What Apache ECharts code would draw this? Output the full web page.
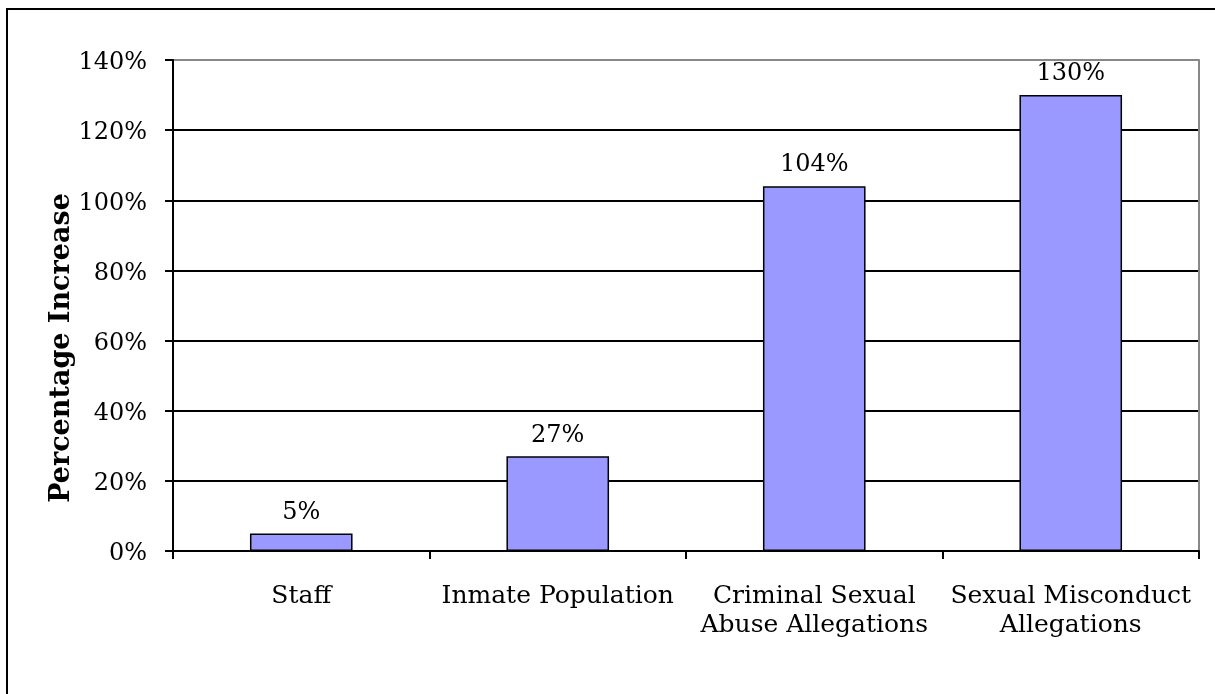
<!DOCTYPE html>
<html>
<head>
<meta charset="utf-8">
<script src="https://cdn.jsdelivr.net/npm/echarts@6/dist/echarts.min.js"></script>
<style>
html,body{margin:0;padding:0;background:#fff;}
#chart{width:1215px;height:694px;}
</style>
</head>
<body>
<div id="chart"></div>
<script>
const categories = ['Staff', 'Inmate Population', 'Criminal Sexual\nAbuse Allegations', 'Sexual Misconduct\nAllegations'];
const values = [5, 27, 104, 130];
const yTicks = [0, 20, 40, 60, 80, 100, 120, 140];
const yTitle = 'Percentage Increase';

const FONT = 'DejaVu Serif';
const chart = echarts.init(document.getElementById('chart'));
chart.setOption({
  animation: false,
  backgroundColor: '#fff',
  grid: { left: 173, top: 60, right: 16, bottom: 143 },
  graphic: [{
    type: 'rect', z: 100,
    shape: { x: 7, y: 9, width: 1400, height: 900 },
    style: { fill: 'none', stroke: '#000', lineWidth: 2 }
  }, {
    type: 'text', x: 62, y: 348, rotation: Math.PI / 2,
    style: { text: yTitle, fontFamily: FONT, fontSize: 27, fontWeight: 'bold', fill: '#000', align: 'center', verticalAlign: 'middle' }
  }],
  xAxis: {
    type: 'category',
    data: categories,
    boundaryGap: true,
    axisLine: { lineStyle: { color: '#000', width: 2 } },
    axisTick: { show: true, length: 8, alignWithLabel: false, lineStyle: { color: '#000', width: 2 } },
    axisLabel: { fontFamily: FONT, fontSize: 25, color: '#000', margin: 31, lineHeight: 29, interval: 0, verticalAlign: 'top' }
  },
  yAxis: [{
    type: 'value',
    min: yTicks[0], max: yTicks[yTicks.length - 1], interval: 20,
    axisLine: { show: true, lineStyle: { color: '#000', width: 2 } },
    axisTick: { show: true, length: 8, lineStyle: { color: '#000', width: 2 } },
    axisLabel: { fontFamily: FONT, fontSize: 24, color: '#000', margin: 26, verticalAlign: 'top', lineHeight: 6, formatter: v => v + '%' },
    splitLine: { show: true, lineStyle: { color: ['#000','#000','#000','#000','#000','#000','#000','#888'], width: 2 } }
  }, {
    type: 'value', position: 'right',
    min: yTicks[0], max: yTicks[yTicks.length - 1], interval: 20,
    axisLine: { show: true, lineStyle: { color: '#888', width: 2 } },
    axisTick: { show: false }, axisLabel: { show: false }, splitLine: { show: false }
  }],
  series: [{
    type: 'bar',
    data: values,
    barWidth: '40%',
    itemStyle: { color: '#9999FF', borderColor: '#000', borderWidth: 1.5 },
    label: { show: true, position: 'top', distance: 9, fontFamily: FONT, fontSize: 24, color: '#000', formatter: p => p.value + '%' }
  }]
});
</script>
</body>
</html>
